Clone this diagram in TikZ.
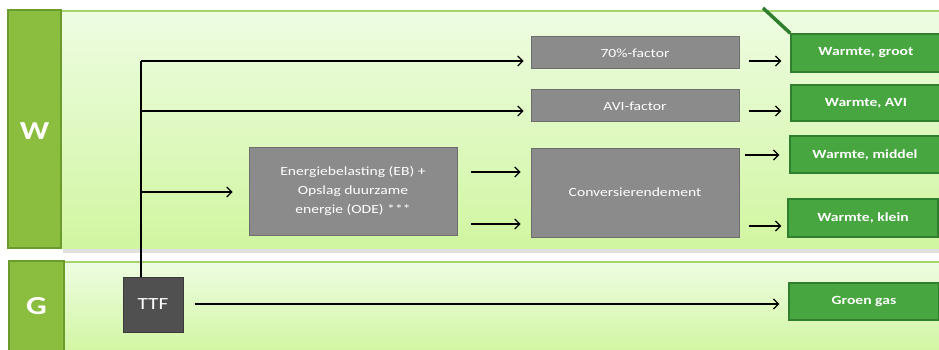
\documentclass[tikz,border=0pt]{standalone}
\usepackage{fontspec}
\setmainfont{Carlito}
\newfontfamily\wide[FakeStretch=1.25]{Carlito}
\usetikzlibrary{arrows.meta,calc}

\definecolor{lblgreen}{HTML}{8BBD3E}
\definecolor{lblborder}{HTML}{6B9A2D}
\definecolor{paneltop}{HTML}{EEFCE2}
\definecolor{panelbot}{HTML}{D0F6A0}
\definecolor{panelline}{HTML}{A5D46A}
\definecolor{boxgray}{HTML}{8B8B8B}
\definecolor{boxgrayline}{HTML}{6D6D6D}
\definecolor{ttfgray}{HTML}{505050}
\definecolor{ttfline}{HTML}{3A3A3A}
\definecolor{outgreen}{HTML}{47A640}
\definecolor{outline}{HTML}{2F7F2F}

\tikzset{
  lbl/.style={fill=lblgreen,draw=lblborder,line width=1.5pt},
  panel/.style={top color=paneltop,bottom color=panelbot},
  lbltext/.style={text=white,font=\wide\bfseries\fontsize{26}{30}\selectfont},
  graybox/.style={rectangle,fill=boxgray,draw=boxgrayline,line width=1pt,
    text=white,align=center,inner sep=0pt,
    font=\wide\fontsize{12.5}{19}\selectfont},
  ttfbox/.style={graybox,fill=ttfgray,draw=ttfline,
    font=\wide\fontsize{17}{20}\selectfont},
  outbox/.style={rectangle,fill=outgreen,draw=outline,line width=1.5pt,
    text=white,inner sep=0pt,minimum width=150pt,
    font=\wide\bfseries\fontsize{12.5}{15}\selectfont},
  arr/.style={line width=1.1pt,-{Straight Barb[length=5pt,width=10pt]}},
  link/.style={line width=1.1pt}
}

\begin{document}
\begin{tikzpicture}[x=1pt,y=-1pt]
\useasboundingbox (0,0) rectangle (939,350);
\clip (0,0) rectangle (939,350);
\fill[white] (0,0) rectangle (939,350);

% W band
\fill[black!12] (63,248) rectangle (945,253);
\fill[panel] (61,11) rectangle (945,248);
\draw[panelline,line width=1.2pt] (61,11) -- (945,11);
\draw[lbl] (8,10) rectangle (61,248);
\node[lbltext] (wlabel) at (34.5,131) {W};

% G band
\fill[panel] (64,262) rectangle (945,355);
\draw[panelline,line width=1.2pt] (64,262) -- (945,262);
\draw[lbl] (9,261) rectangle (64,355);
\node[lbltext] (glabel) at (36.5,306) {G};

% processing steps
\node[graybox,minimum width=208pt,minimum height=32pt] (f70) at (635,53) {70\%-factor};
\node[graybox,minimum width=208pt,minimum height=32pt] (avi) at (635,106) {AVI-factor};
\node[graybox,minimum width=208pt,minimum height=88pt] (eb) at (353,191)
  {Energiebelasting (EB) +\\Opslag duurzame\\energie (ODE) ***};
\node[graybox,minimum width=208pt,minimum height=89pt] (conv) at (635,192.5) {Conversierendement};
\node[ttfbox,minimum width=60pt,minimum height=55pt] (ttf) at (153,304.5) {TTF};

% outputs
\node[outbox,minimum height=38pt] (wg) at (866,53) {Warmte, groot};
\node[outbox,minimum height=36pt] (wa) at (866,103) {Warmte, AVI};
\node[outbox,minimum height=37pt] (wm) at (865,154.5) {Warmte, middel};
\node[outbox,minimum height=38pt] (wk) at (863,218) {Warmte, klein};
\node[outbox,minimum height=37pt] (gg) at (864,301.5) {Groen gas};

% tab edge above the first output
\coordinate (tab) at (763,8);
\draw[outline,line width=3.5pt] (tab) -- (wg.north west);

% trunk from TTF into the W band
\coordinate (t1) at (141,61);
\coordinate (t2) at (141,111);
\coordinate (t3) at (141,192);
\draw[link] (ttf.north -| t1) -- (t1);
\draw[arr,shorten >=7pt] (t1) -- (f70.west |- t1);
\draw[arr,shorten >=7pt] (t2) -- (avi.west |- t2);
\draw[arr,shorten >=16pt] (t3) -- (eb.west |- t3);

% EB to conversion
\draw[arr,shorten <=13pt,shorten >=10pt] (eb.east |- 0,172) -- (conv.west |- 0,172);
\draw[arr,shorten <=13pt,shorten >=10pt] (eb.east |- 0,224) -- (conv.west |- 0,224);

% to outputs
\draw[arr,shorten <=9pt,shorten >=9pt] (f70.east |- 0,61) -- (wg.west |- 0,61);
\draw[arr,shorten <=9pt,shorten >=9pt] (avi.east |- 0,111) -- (wa.west |- 0,111);
\draw[arr,shorten <=5pt,shorten >=10pt] (conv.east |- 0,155) -- (wm.west |- 0,155);
\draw[arr,shorten <=9pt,shorten >=6pt] (conv.east |- 0,226) -- (wk.west |- 0,226);
\draw[arr,shorten <=11pt,shorten >=9pt] (ttf.east |- 0,304) -- (gg.west |- 0,304);
\end{tikzpicture}
\end{document}
